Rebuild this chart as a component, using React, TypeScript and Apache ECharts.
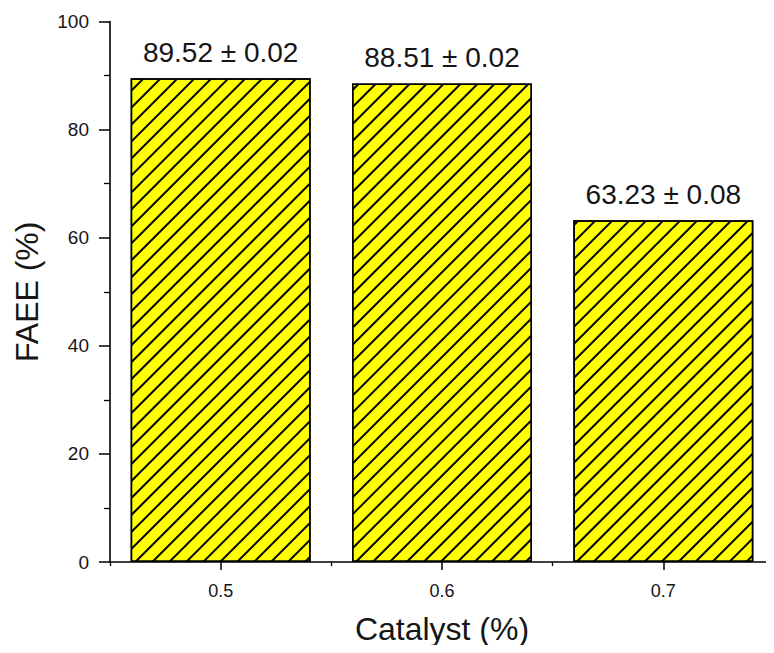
import React, { useEffect, useRef } from "react";
import * as echarts from "echarts";

// Catalyst loading (%) and fatty-acid ethyl ester yield (%)
const categories = ["0.5", "0.6", "0.7"];
const faee = [89.52, 88.51, 63.23];
const faeeSd = [0.02, 0.02, 0.08];
const yTicks = [0, 20, 40, 60, 80, 100];

const FONT = "'Liberation Sans', Arial, sans-serif";
const INK = "#161616";

export default function App() {
  const ref = useRef<HTMLDivElement>(null);

  useEffect(() => {
    if (!ref.current) return;
    const chart = echarts.init(ref.current, undefined, { renderer: "svg" });

    const labels = faee.map((v, i) => `${v.toFixed(2)} ± ${faeeSd[i].toFixed(2)}`);

    chart.setOption({
      animation: false,
      backgroundColor: "#ffffff",
      grid: { left: 110, top: 21.5, width: 669, height: 540.5, containLabel: false },
      xAxis: [
        {
          type: "category",
          data: categories,
          name: "Catalyst (%)",
          nameLocation: "middle",
          nameGap: 51,
          nameTextStyle: { fontFamily: FONT, fontSize: 32, color: INK },
          axisLine: { show: true, lineStyle: { color: "#000", width: 1.6 } },
          axisTick: { show: true, alignWithLabel: true, length: 8, lineStyle: { color: "#000", width: 1.5 } },
          axisLabel: { fontFamily: FONT, fontSize: 18, color: INK, margin: 20 },
          splitLine: { show: false },
        },
        {
          // boundary ticks between categories
          type: "category",
          data: categories,
          position: "bottom",
          axisLine: { show: false },
          axisTick: { show: true, length: 4, lineStyle: { color: "#000", width: 1.3 } },
          axisLabel: { show: false },
          splitLine: { show: false },
        },
      ],
      yAxis: {
        type: "value",
        min: yTicks[0],
        max: yTicks[yTicks.length - 1],
        interval: 20,
        name: "FAEE (%)",
        nameLocation: "middle",
        nameGap: 67,
        nameTextStyle: { fontFamily: FONT, fontSize: 32, color: INK },
        axisLine: { show: true, lineStyle: { color: "#000", width: 1.6 } },
        axisTick: { show: true, length: 11, lineStyle: { color: "#000", width: 1.5 } },
        minorTick: { show: true, splitNumber: 2, length: 6, lineStyle: { color: "#000", width: 1.3 } },
        axisLabel: { fontFamily: FONT, fontSize: 19, color: INK, margin: 21 },
        splitLine: { show: false },
      },
      series: [
        {
          type: "bar",
          xAxisIndex: 0,
          data: faee,
          barWidth: 180,
          itemStyle: {
            color: "#ffff00",
            borderColor: "#000",
            borderWidth: 1.5,
            decal: {
              symbol: "rect",
              symbolSize: 1,
              color: "#000",
              dashArrayX: [1, 0],
              dashArrayY: [1.2, 9.4],
              rotation: -Math.PI / 4,
            },
          },
          label: {
            show: true,
            position: "top",
            distance: 12,
            fontFamily: FONT,
            fontSize: 28,
            color: INK,
            formatter: (p: any) => labels[p.dataIndex],
          },
        },
      ],
    });

    return () => chart.dispose();
  }, []);

  return <div ref={ref} style={{ width: 774, height: 653, margin: -8 }} />;
}
